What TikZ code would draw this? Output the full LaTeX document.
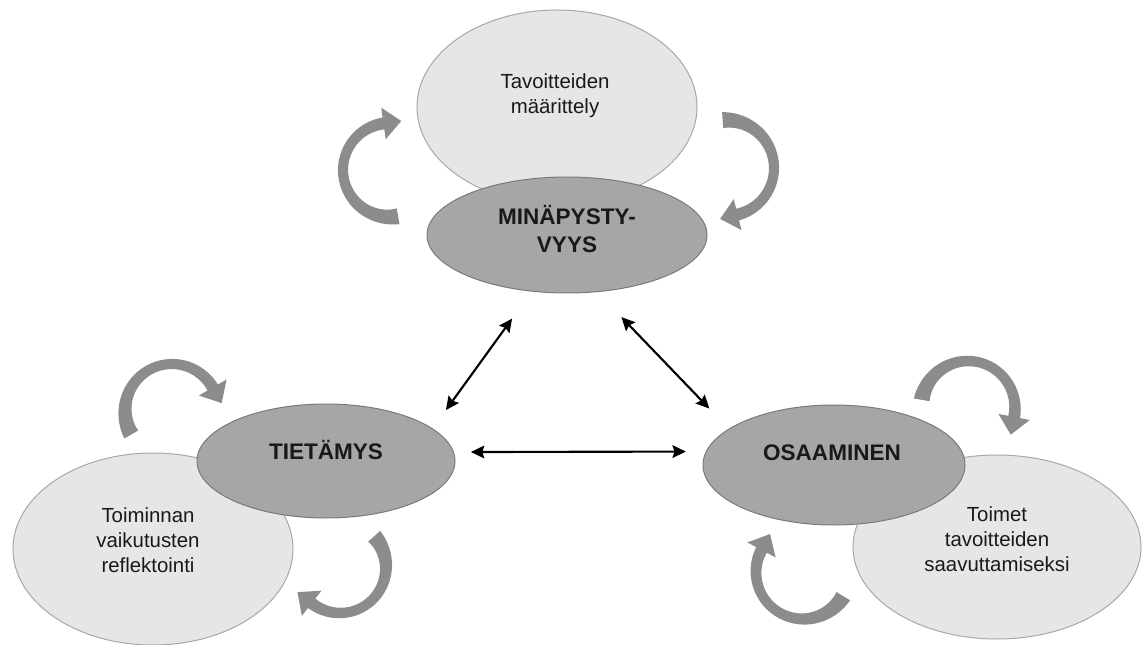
\documentclass[tikz,border=0pt]{standalone}
\usepackage{fontspec}
\setmainfont{Liberation Sans}
\usetikzlibrary{positioning,shapes.geometric,arrows.meta}

\definecolor{lightFill}{HTML}{E6E6E6}
\definecolor{lightLine}{HTML}{A8A8A8}
\definecolor{darkFill}{HTML}{A6A6A6}
\definecolor{darkLine}{HTML}{7A7A7A}
\definecolor{turnGray}{HTML}{8C8C8C}

% curved block arrow: centre x, centre y, radius, tail angle, head angle
\newcommand{\turnarrow}[5]{%
  \fill[turnFill, shift={(#1,#2)}]
    plot[domain=#4:#5, samples=40] (\x:{#3+4.5+3.5*(1-(\x-#4)/(#5-#4))^3+1.5*((\x-#4)/(#5-#4))^3})
    -- (#5:{#3+16})
    -- ({#3*cos(#5)+18*cos(#5+90)},{#3*sin(#5)+18*sin(#5+90)})
    -- (#5:{#3-16})
    -- plot[domain=#5:#4, samples=40] (\x:{#3-4.5-3.5*(1-(\x-#4)/(#5-#4))^3-1.5*((\x-#4)/(#5-#4))^3})
    -- cycle;}

\begin{document}
\begin{tikzpicture}[x=0.75pt, y=-0.75pt]

    %
    % Styles for ellipses, texts and links
    %
    \tikzstyle{blob} = [ellipse, inner sep=0pt, line width=0.75pt]
    \tikzstyle{goalBlob} = [blob, draw=lightLine, fill=lightFill]
    \tikzstyle{coreBlob} = [blob, draw=darkLine, fill=darkFill]
    \tikzstyle{plainText} = [align=center, text=black!90, font={\fontsize{15.3pt}{18.8pt}\selectfont}]
    \tikzstyle{coreText} = [align=center, text=black!90, font={\fontsize{16.9pt}{21pt}\selectfont\bfseries}]
    \tikzstyle{turnFill} = [fill=turnGray]
    \tikzstyle{dataLink} = [{Stealth[length=10pt,width=9.5pt,inset=1.5pt]}-{Stealth[length=10pt,width=9.5pt,inset=1.5pt]},
                            line width=1.6pt, black]

    \useasboundingbox (0,0) rectangle (1142,645);

    %
    % Light ellipses
    %
    \node[goalBlob, name=tav, minimum width=210pt, minimum height=145.5pt] at (557,107) {};
    \node[goalBlob, name=refl, minimum width=210pt, minimum height=144pt] at (153,549) {};
    \node[goalBlob, name=toimet, minimum width=216pt, minimum height=138pt] at (997,547) {};

    %
    % Dark ellipses
    %
    \node[coreBlob, name=mina, minimum width=210pt, minimum height=87pt] at (567,235) {};
    \node[coreBlob, name=tieta, minimum width=193.5pt, minimum height=85.5pt] at (326,461) {};
    \node[coreBlob, name=osaa, minimum width=196.5pt, minimum height=90pt] at (834,465) {};

    %
    % Texts
    %
    \node[plainText, name=tavText] at (555,96) {Tavoitteiden\\määrittely};
    \node[plainText, name=reflText] at (148,540) {Toiminnan\\vaikutusten\\reflektointi};
    \node[plainText, name=toimetText] at (997,539) {Toimet\\tavoitteiden\\saavuttamiseksi};
    \node[coreText, name=minaText] at (567,229) {MINÄPYSTY-\\VYYS};
    \node[coreText, name=tietaText] at (326,450) {TIETÄMYS};
    \node[coreText, name=osaaText] at (832,453) {OSAAMINEN};

    %
    % Curved arrows round each pair
    %
    \turnarrow{390}{170}{47}{80}{262}
    \turnarrow{726}{168}{48}{266}{436}
    \turnarrow{172}{411}{47}{150}{330}
    \turnarrow{340}{567}{46}{318}{488}
    \turnarrow{968}{408}{47}{190}{371}
    \turnarrow{803}{572}{47}{31}{208}

    %
    % Links between the three cores
    %
    \draw[dataLink, shorten <=25pt, shorten >=17pt] (mina.238) -- (tieta.17);
    \draw[dataLink, shorten <=26pt, shorten >=21pt] (mina.298.5) -- (osaa.161);
    \draw[dataLink, shorten <=12.75pt, shorten >=15pt] (tieta.4) -- (osaa.174);
  \end{tikzpicture}
\end{document}
